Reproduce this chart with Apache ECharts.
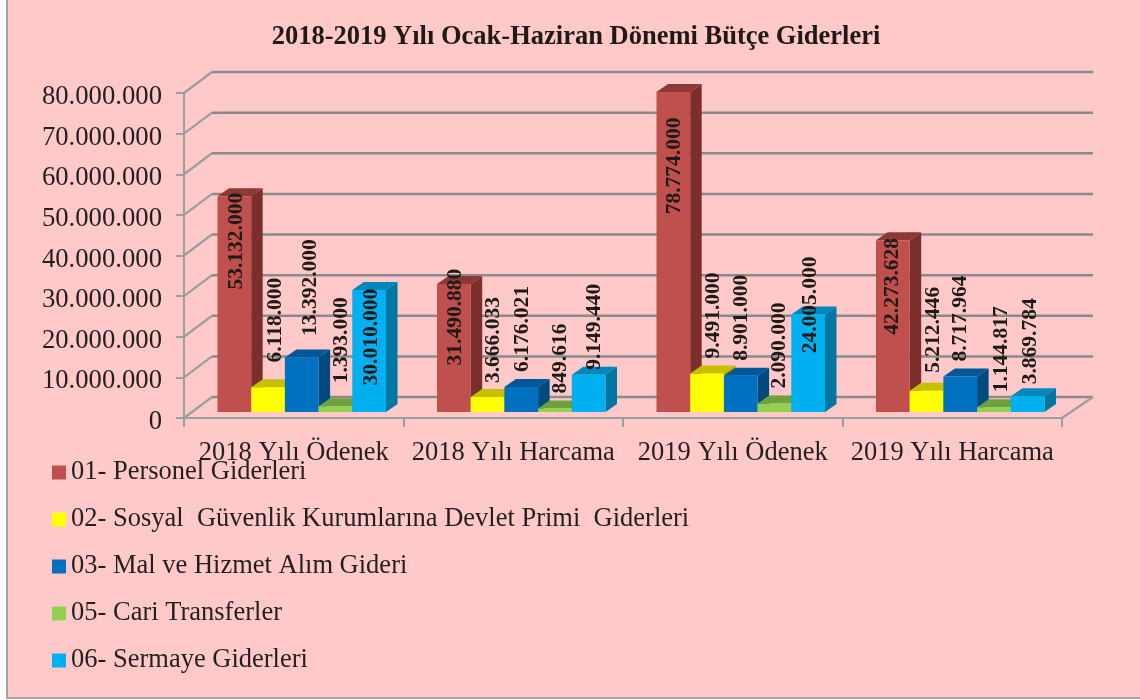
<!DOCTYPE html>
<html><head><meta charset="utf-8">
<style>html,body{margin:0;padding:0;background:#fff}#c{width:1140px;height:700px}</style>
<script src="https://cdn.jsdelivr.net/npm/echarts@6/dist/echarts.min.js"></script>
</head><body><div id="c"></div>
<script>
const titleText = '2018-2019 Yılı Ocak-Haziran Dönemi Bütçe Giderleri';
const categories = ['2018 Yılı Ödenek','2018 Yılı Harcama','2019 Yılı Ödenek','2019 Yılı Harcama'];
const personel = [53132000,31490880,78774000,42273628];
const sosyal   = [6118000,3666033,9491000,5212446];
const mal      = [13392000,6176021,8901000,8717964];
const cari     = [1393000,849616,2090000,1144817];
const sermaye  = [30010000,9149440,24005000,3869784];
const seriesNames = ['01- Personel Giderleri','02- Sosyal  Güvenlik Kurumlarına Devlet Primi  Giderleri','03- Mal ve Hizmet Alım Gideri','05- Cari Transferler','06- Sermaye Giderleri'];
const yTicks = [0,10000000,20000000,30000000,40000000,50000000,60000000,70000000,80000000];

const seriesValues = [personel,sosyal,mal,cari,sermaye];
const palette = [
  {front:'#C0504D',side:'#7B2E2C',top:'#8E3835'},
  {front:'#FFFF00',side:'#A8A400',top:'#C6C000'},
  {front:'#0070C0',side:'#004A80',top:'#00589A'},
  {front:'#92D050',side:'#5E8A34',top:'#6FA03C'},
  {front:'#00B0F0',side:'#0076A2',top:'#0088BC'}
];
// label nudges from bar front-top centre, per series per category
const labelNudge = [
  [[2,45],[2,33],[1.5,74],[0,46]],
  [[7,-67],[6,-57],[6,-58],[7,-61]],
  [[9,-70],[1.5,-58],[1,-58],[0,-58]],
  [[6,-66],[6,-50],[5.5,-58],[7.5,-58]],
  [[2,47],[6,-48],[2,-9.5],[3,-55]]
];
const fmt = v => String(v).replace(/\B(?=(\d{3})+(?!\d))/g,'.');
const SERIF = '"Liberation Serif","Times New Roman",serif';
const WALL_DX = 28, WALL_DY = 21, WALL_RIGHT = 31;
const BAR_OFF_X = 8, BAR_OFF_Y = 6, DEPTH_X = 11.5, DEPTH_Y = 8;
const GAP = 25.5, BAR_W = 33.7;
const LINE = '#8a8a8a';

const wallSeries = {
  type:'custom', silent:true, z:1, clip:false,
  data: yTicks.map(t=>[0,t]),
  encode:{x:0,y:1},
  renderItem(params, api){
    const y = api.coord([0,api.value(1)])[1];
    const cs = params.coordSys;
    const L = cs.x, R = cs.x+cs.width;
    const children = [{type:'polyline',shape:{points:[[L,y],[L+WALL_DX,y-WALL_DY]]},style:{stroke:'#9a9e9e',lineWidth:2.2,fill:null}},
      {type:'line',shape:{x1:L+WALL_DX,y1:y-WALL_DY,x2:R+WALL_RIGHT,y2:y-WALL_DY},style:{stroke:LINE,lineWidth:2.5}}];
    if(api.value(1)===0){
      children.push({type:'line',shape:{x1:R,y1:y,x2:R+WALL_RIGHT,y2:y-WALL_DY},style:{stroke:'#9a9e9e',lineWidth:2.2}});
    }
    return {type:'group',children};
  }
};

const barSeries = seriesValues.map((vals,s)=>({
  type:'custom', name:seriesNames[s], z:2, clip:false,
  itemStyle:{color:palette[s].front},
  encode:{x:0,y:1},
  data: vals.map((v,i)=>[i,v]),
  renderItem(params, api){
    const i = api.value(0), v = api.value(1);
    const c = api.coord([i,v]), base = api.coord([i,0]);
    const cw = api.size([1,0])[0];
    const x0 = c[0]-cw/2+GAP+BAR_OFF_X+s*BAR_W, x1 = x0+BAR_W;
    const yT = c[1]-BAR_OFF_Y, yB = base[1]-BAR_OFF_Y;
    const p = palette[s], n = labelNudge[s][i];
    return {type:'group',children:[
      {type:'polygon',shape:{points:[[x1,yT],[x1+DEPTH_X,yT-DEPTH_Y],[x1+DEPTH_X,yB-DEPTH_Y],[x1,yB]]},style:{fill:p.side}},
      {type:'polygon',shape:{points:[[x0,yT],[x0+DEPTH_X,yT-DEPTH_Y],[x1+DEPTH_X,yT-DEPTH_Y],[x1,yT]]},style:{fill:p.top}},
      {type:'rect',shape:{x:x0,y:yT,width:BAR_W,height:yB-yT},style:{fill:p.front}},
      {type:'text',z2:100,x:(x0+x1)/2+n[0],y:yT+n[1],rotation:Math.PI/2,
        style:{text:fmt(v),font:'bold 21.5px '+SERIF,fill:'#1f1a17',align:'center',verticalAlign:'middle'}}
    ]};
  }
}));

const chart = echarts.init(document.getElementById('c'),null,{renderer:'canvas'});
chart.setOption({
  animation:false,
  backgroundColor:'#fff',
  graphic:[
    {type:'rect',z:-10,silent:true,shape:{x:7,y:0,width:1133,height:698},style:{fill:'#FFC9C9'}},
    {type:'line',z:-9,silent:true,shape:{x1:7,y1:0,x2:7,y2:698},style:{stroke:'#a4a4a4',lineWidth:2}},
    {type:'line',z:-9,silent:true,shape:{x1:6,y1:698,x2:1140,y2:698},style:{stroke:'#a4a4a4',lineWidth:2}}
  ],
  title:{text:titleText,left:571,textAlign:'center',top:19,textStyle:{fontFamily:SERIF,fontWeight:'bold',fontSize:26.5,color:'#1f1a17'}},
  legend:{orient:'vertical',left:52,top:459,padding:0,itemWidth:14,itemHeight:14,itemGap:20,icon:'rect',selectedMode:false,
    data:seriesNames,textStyle:{fontFamily:SERIF,fontSize:26.5,color:'#231f20'}},
  grid:{left:184,right:78,top:93,height:325,containLabel:false},
  xAxis:{type:'category',data:categories,
    axisLine:{lineStyle:{color:'#9a9e9e',width:2}},
    axisTick:{show:true,length:9,lineStyle:{color:'#9a9e9e',width:2}},
    axisLabel:{margin:22,interval:0,fontFamily:SERIF,fontSize:26.5,color:'#231f20'}},
  yAxis:{type:'value',min:0,max:80000000,interval:10000000,
    axisLine:{show:true,lineStyle:{color:'#9a9e9e',width:2}},
    axisTick:{show:true,length:8,lineStyle:{color:'#9a9e9e',width:2}},
    splitLine:{show:false},
    axisLabel:{margin:22,verticalAlign:'top',lineHeight:8,fontFamily:SERIF,fontSize:26.7,color:'#231f20',formatter:fmt}},
  series:[wallSeries].concat(barSeries)
});
</script></body></html>
